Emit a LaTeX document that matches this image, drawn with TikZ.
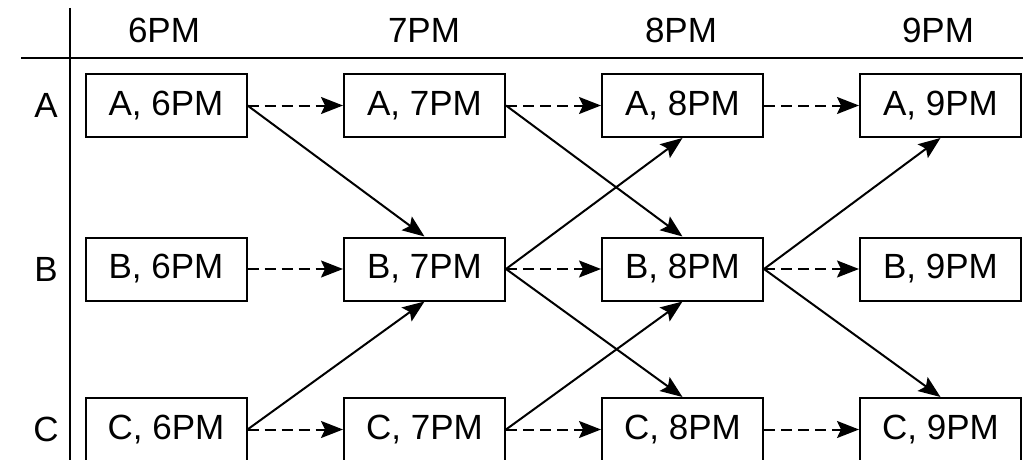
\documentclass[tikz,border=0pt]{standalone}
\usepackage{fontspec}
\setmainfont{Liberation Sans}
\usetikzlibrary{arrows.meta}
\begin{document}
\begin{tikzpicture}[x=1pt,y=-1pt,
  every node/.style={font=\fontsize{35}{40}\selectfont},
  slot/.style={draw, line width=2pt, minimum width=161pt, minimum height=63pt, inner sep=0pt},
  tip/.style={-{Stealth[length=22pt,width=17pt,inset=4pt]}},
  wait/.style={tip, line width=2pt, dash pattern=on 11pt off 6pt},
  move/.style={tip, line width=2pt},
  rule/.style={line width=2pt}]
\useasboundingbox (0,0) rectangle (1023,460);

% table rules
\draw[rule] (21,58) -- (1023,58);
\draw[rule] (70,8) -- (70,460);

% column headers
\node (h6) at (164,30) {6PM};
\node (h7) at (424,30) {7PM};
\node (h8) at (681,30) {8PM};
\node (h9) at (938,30) {9PM};

% row labels
\node (rA) at (46,105.5) {A};
\node (rB) at (46,269) {B};
\node (rC) at (46,429.5) {C};

% state nodes
\foreach \r/\y in {A/105.5, B/269, C/429.5}{
  \node[slot] (\r6) at (166,\y) {\r, 6PM};
  \node[slot] (\r7) at (424.5,\y) {\r, 7PM};
  \node[slot] (\r8) at (682.5,\y) {\r, 8PM};
  \node[slot] (\r9) at (940.5,\y) {\r, 9PM};
}

% waiting edges
\foreach \r in {A,B,C}{
  \draw[wait] (\r6.east) -- (\r7.west);
  \draw[wait] (\r7.east) -- (\r8.west);
  \draw[wait] (\r8.east) -- (\r9.west);
}

% moving edges
\draw[move] (A6.east) -- (B7.north);
\draw[move] (C6.east) -- (B7.south);
\draw[move] (A7.east) -- (B8.north);
\draw[move] (B7.east) -- (A8.south);
\draw[move] (B7.east) -- (C8.north);
\draw[move] (C7.east) -- (B8.south);
\draw[move] (B8.east) -- (A9.south);
\draw[move] (B8.east) -- (C9.north);
\end{tikzpicture}
\end{document}
